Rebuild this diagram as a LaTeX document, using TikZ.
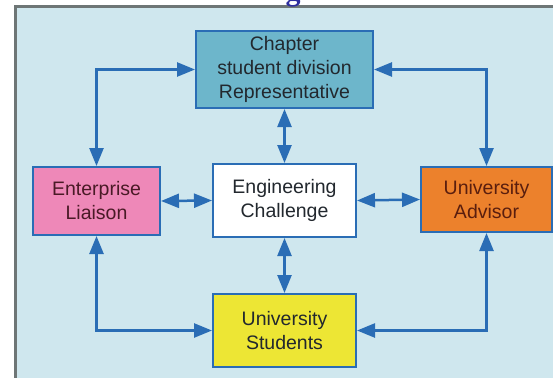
\documentclass[tikz,border=0pt]{standalone}
\usepackage{fontspec}
\setmainfont{Liberation Sans}
\newfontfamily\titleserif{Liberation Serif}
\usetikzlibrary{arrows.meta}
\definecolor{panel}{HTML}{CFE7EE}
\definecolor{frame}{HTML}{6E7676}
\definecolor{linkblue}{HTML}{2A6DB5}
\definecolor{chapfill}{HTML}{6DB6CB}
\definecolor{entfill}{HTML}{EE88B8}
\definecolor{advfill}{HTML}{EC812C}
\definecolor{stufill}{HTML}{EDE634}
\definecolor{titleblue}{HTML}{2E2E9E}
\definecolor{darktext}{HTML}{22282E}
\definecolor{maroontext}{HTML}{4A1A26}
\definecolor{brown}{HTML}{5A1E0E}
\tikzset{
  box/.style={draw=linkblue, line width=2pt, rectangle, align=center,
    font=\fontsize{19.5}{24}\selectfont, inner sep=0pt},
  link/.style={draw=linkblue, line width=2.5pt,
    {Triangle[length=18pt,width=14pt]}-{Triangle[length=18pt,width=14pt]}},
}
\begin{document}
\begin{tikzpicture}[x=1pt,y=-1pt]
\useasboundingbox (0,0) rectangle (553,378);
\clip (0,0) rectangle (553,378);
% panel
\fill[panel] (14,6) rectangle (553,378);
\fill[frame] (14,5) rectangle (553,8);
\fill[frame] (14,5) rectangle (17,378);
% cut-off title letter
\node[anchor=base, text=titleblue, inner sep=0pt,
  font=\titleserif\bfseries\fontsize{30}{30}\selectfont] (ttl) at (293,0) {g};
% boxes
\node[box, fill=chapfill, text=darktext, minimum width=177pt, minimum height=77pt]
  (chap) at (284.5,69.5) {Chapter\\student division\\Representative};
\node[box, fill=entfill, text=maroontext, minimum width=127pt, minimum height=68pt]
  (ent) at (96.5,201) {Enterprise\\Liaison};
\node[box, fill=white, text=darktext, minimum width=143pt, minimum height=73pt]
  (eng) at (284.5,200.5) {Engineering\\Challenge};
\node[box, fill=advfill, text=brown, minimum width=131pt, minimum height=65pt]
  (adv) at (486.5,199.5) {University\\Advisor};
\node[box, fill=stufill, text=darktext, minimum width=143pt, minimum height=73pt]
  (stu) at (284.5,330.5) {University\\Students};
% connectors
\draw[link] (ent.north) |- (chap.west);
\draw[link] (adv.north) |- (chap.east);
\draw[link] (ent.south) |- (stu.west);
\draw[link] (adv.south) |- (stu.east);
\draw[link] (ent.east) -- (eng.west);
\draw[link] (eng.east) -- (adv.west);
\draw[link] (chap.south) -- (eng.north);
\draw[link] (eng.south) -- (stu.north);
\end{tikzpicture}
\end{document}
